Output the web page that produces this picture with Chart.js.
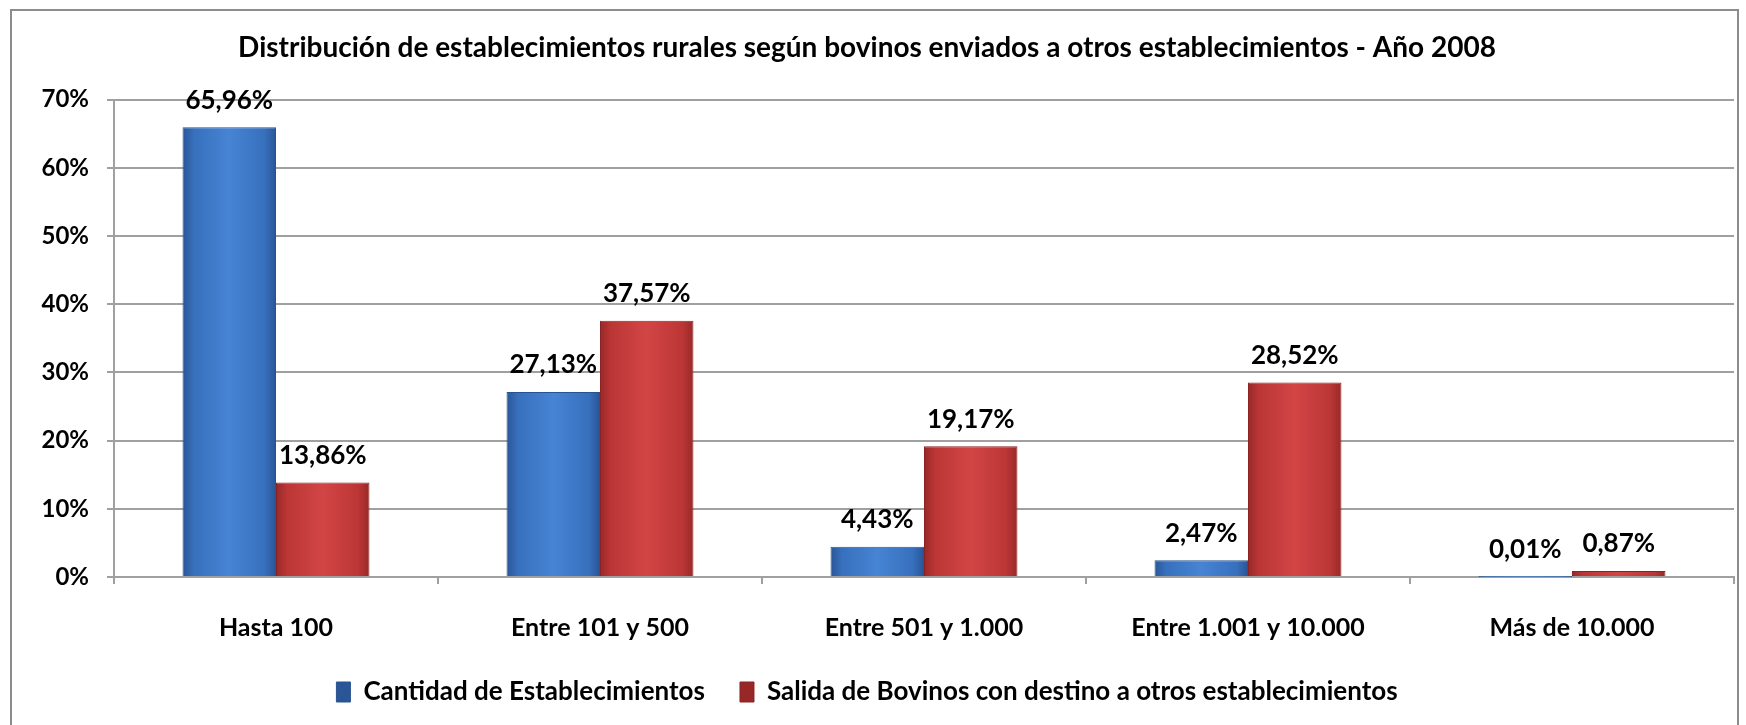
<!DOCTYPE html>
<html>
<head>
<meta charset="utf-8">
<script src="https://cdn.jsdelivr.net/npm/chart.js@4"></script>
<style>
  html, body { margin: 0; padding: 0; background: #fff; }
  #wrap { width: 1746px; height: 725px; }
</style>
</head>
<body>
<div id="wrap"><canvas id="myChart"></canvas></div>
<script>
const categories = ["Hasta 100", "Entre 101 y 500", "Entre 501 y 1.000", "Entre 1.001 y 10.000", "Más de 10.000"];
const cantidadEstablecimientos = [65.96, 27.13, 4.43, 2.47, 0.01];
const salidaBovinos = [13.86, 37.57, 19.17, 28.52, 0.87];
const yTicks = [0, 10, 20, 30, 40, 50, 60, 70];

const FONT = "Lato, 'DejaVu Sans', sans-serif";
const CAT_PCT = 0.577;

function fmt(v) {
  return v.toFixed(2).replace(".", ",") + "%";
}

// horizontal shading across each bar, darker on the edges
function barGradient(dark, mid, light, side) {
  return function (context) {
    const chart = context.chart;
    const x = chart.scales.x;
    if (!chart.chartArea || !x || context.dataIndex === undefined) return mid;
    const center = x.getPixelForValue(context.dataIndex);
    const barW = (x.width / categories.length) * CAT_PCT / 2;
    const x0 = side === 0 ? center - barW : center;
    const g = chart.ctx.createLinearGradient(x0, 0, x0 + barW, 0);
    g.addColorStop(0, dark);
    g.addColorStop(0.12, mid);
    g.addColorStop(0.5, light);
    g.addColorStop(0.88, mid);
    g.addColorStop(1, dark);
    return g;
  };
}

const frame = {
  id: "frame",
  beforeDraw(chart) {
    const ctx = chart.ctx;
    ctx.save();
    ctx.strokeStyle = "#8c8c8c";
    ctx.lineWidth = 2;
    ctx.strokeRect(11, 10, 1727, 740);
    ctx.restore();
  },
};

const valueLabels = {
  id: "valueLabels",
  afterDatasetsDraw(chart) {
    const ctx = chart.ctx;
    ctx.save();
    ctx.font = "bold 26px " + FONT;
    ctx.fillStyle = "#000";
    ctx.textAlign = "center";
    ctx.textBaseline = "middle";
    chart.data.datasets.forEach((ds, i) => {
      chart.getDatasetMeta(i).data.forEach((bar, j) => {
        ctx.fillText(fmt(ds.data[j]), bar.x, bar.y - 27);
      });
    });
    ctx.restore();
  },
};

const ctx = document.getElementById("myChart").getContext("2d");

const data = {
  labels: categories,
  datasets: [
    {
      label: "Cantidad de Establecimientos",
      data: cantidadEstablecimientos,
      backgroundColor: barGradient("#2a5596", "#3770bd", "#4784d4", 0),
      borderColor: "#27548f",
      borderWidth: 1,
      categoryPercentage: CAT_PCT,
      barPercentage: 1,
    },
    {
      label: "Salida de Bovinos con destino a otros establecimientos",
      data: salidaBovinos,
      backgroundColor: barGradient("#982828", "#bc3636", "#d24545", 1),
      borderColor: "#8a2424",
      borderWidth: 1,
      categoryPercentage: CAT_PCT,
      barPercentage: 1,
    },
  ],
};

const config = {
  type: "bar",
  data: data,
  options: {
    responsive: true,
    maintainAspectRatio: false,
    animation: false,
    layout: {
      padding: { left: 0, right: 12, top: 0, bottom: 10 },
    },
    scales: {
      x: {
        grid: {
          display: true,
          offset: true,
          drawOnChartArea: false,
          drawTicks: true,
          tickLength: 7,
          color: "#a0a0a0",
          lineWidth: 2,
        },
        border: { display: true, color: "#a0a0a0", width: 2 },
        ticks: {
          color: "#000",
          padding: 29,
          font: { family: FONT, size: 25, weight: "bold" },
        },
        afterFit(scale) {
          scale.height = 67;
        },
      },
      y: {
        min: 0,
        max: 70,
        afterBuildTicks(scale) {
          scale.ticks = yTicks.map((v) => ({ value: v }));
        },
        grid: {
          color: "#a0a0a0",
          lineWidth: 2,
          drawTicks: true,
          tickLength: 7,
        },
        border: { display: true, color: "#a0a0a0", width: 2 },
        ticks: {
          color: "#000",
          padding: 18,
          callback: (v) => v + "%",
          font: { family: FONT, size: 24, weight: "bold" },
        },
        afterFit(scale) {
          scale.width = 114;
        },
      },
    },
    plugins: {
      title: {
        display: true,
        text: "Distribución de establecimientos rurales según bovinos enviados a otros establecimientos - Año 2008",
        color: "#000",
        font: { family: FONT, size: 28, weight: "bold" },
        padding: { top: 31, bottom: 35 },
      },
      legend: {
        display: true,
        position: "bottom",
        labels: {
          color: "#000",
          boxWidth: 14,
          boxHeight: 20,
          padding: 35,
          font: { family: FONT, size: 26, weight: "bold" },
        },
      },
      tooltip: { enabled: false },
    },
  },
  plugins: [frame, valueLabels],
};

const establecimientosChart = new Chart(ctx, config);
</script>
</body>
</html>
